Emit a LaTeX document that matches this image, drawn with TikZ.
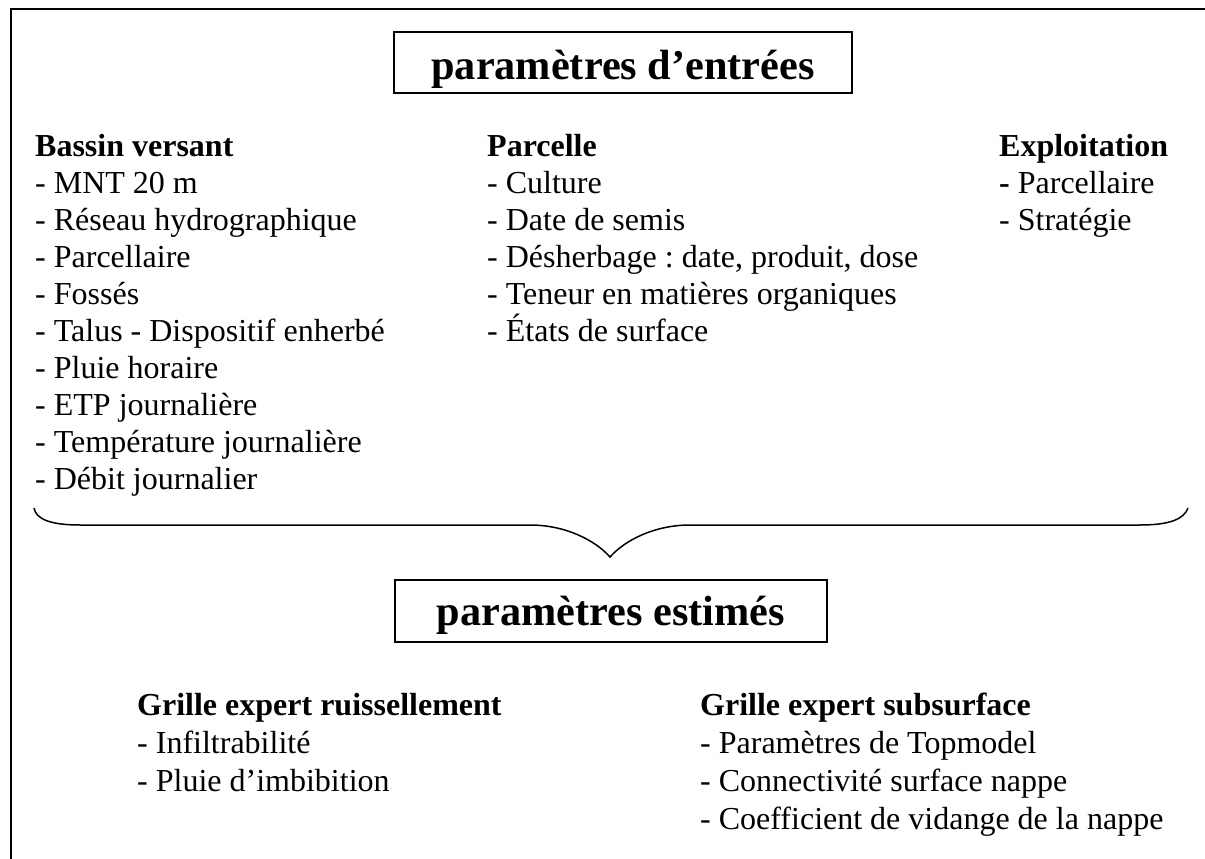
\documentclass[tikz,border=0pt]{standalone}
\usepackage{fontspec}
\setmainfont{Liberation Serif}
\frenchspacing
\begin{document}
\begin{tikzpicture}[x=1pt,y=-1pt,
  txt/.style={anchor=base west, inner sep=0pt, font=\fontsize{32}{37}\selectfont},
  head/.style={txt, font=\fontsize{32}{37}\selectfont\bfseries},
  titlebox/.style={draw, line width=2pt, inner sep=0pt},
  titletext/.style={anchor=base, inner sep=0pt, font=\fontsize{42.3}{50}\selectfont\bfseries},
  frame/.style={line width=2pt},
  bracestyle/.style={line width=1.5pt}]
\useasboundingbox (0,0) rectangle (1205,859);
% frame
\draw[frame] (1205,9) -- (11,9) -- (11,859);
% title boxes
\node[titlebox, minimum width=458pt, minimum height=61pt] (t1box) at (623,62.5) {};
\node[titletext] (t1) at (623,79) {paramètres d’entrées};
\node[titlebox, minimum width=432pt, minimum height=62pt] (t2box) at (611,611) {};
\node[titletext] (t2) at (611,625) {paramètres estimés};
% column 1
\node[head] (c1h) at (35,156) {Bassin versant};
\node[txt] (c1a) at (35,193) {- MNT 20 m};
\node[txt] (c1b) at (35,230) {- Réseau hydrographique};
\node[txt] (c1c) at (35,267) {- Parcellaire};
\node[txt] (c1d) at (35,304) {- Fossés};
\node[txt] (c1e) at (35,341) {- Talus - Dispositif enherbé};
\node[txt] (c1f) at (35,378) {- Pluie horaire};
\node[txt] (c1g) at (35,415) {- ETP journalière};
\node[txt] (c1h2) at (35,452) {- Température journalière};
\node[txt] (c1i) at (35,489) {- Débit journalier};
% column 2
\node[head] (c2h) at (487,156) {Parcelle};
\node[txt] (c2a) at (487,193) {- Culture};
\node[txt] (c2b) at (487,230) {- Date de semis};
\node[txt] (c2c) at (487,267) {- Désherbage : date, produit, dose};
\node[txt] (c2d) at (487,304) {- Teneur en matières organiques};
\node[txt] (c2e) at (487,341) {- États de surface};
% column 3
\node[head] (c3h) at (999,156) {Exploitation};
\node[txt] (c3a) at (999,193) {\textbf{-} Parcellaire};
\node[txt] (c3b) at (999,230) {- Stratégie};
% brace
\draw[bracestyle] (34,508) .. controls (36,519) and (50,525) .. (80,525) -- (530,525)
  .. controls (565,525) and (595,540) .. (610,557)
  .. controls (625,540) and (655,525) .. (690,525) -- (1140,525)
  .. controls (1170,525) and (1184,519) .. (1188,508);
% bottom columns
\node[head] (b1h) at (137,715) {Grille expert ruissellement};
\node[txt] (b1a) at (137,753) {- Infiltrabilité};
\node[txt] (b1b) at (137,791) {- Pluie d’imbibition};
\node[head] (b2h) at (700,715) {Grille expert subsurface};
\node[txt] (b2a) at (700,753) {- Paramètres de Topmodel};
\node[txt] (b2b) at (700,791) {- Connectivité surface nappe};
\node[txt] (b2c) at (700,829) {- Coefficient de vidange de la nappe};
\end{tikzpicture}
\end{document}
